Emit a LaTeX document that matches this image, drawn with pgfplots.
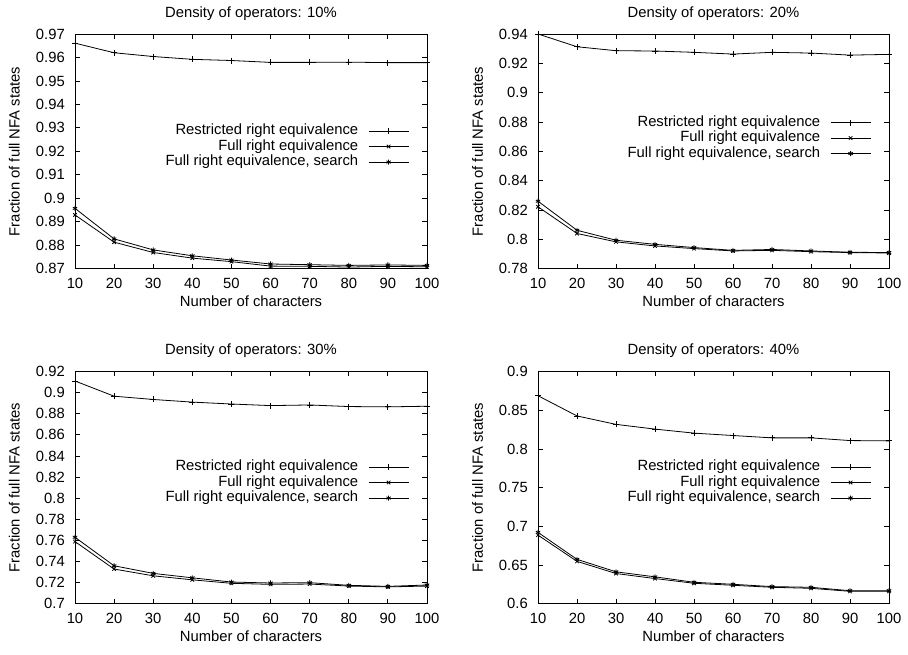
\documentclass[border=0pt]{standalone}
\usepackage{fontspec}
\setmainfont{Liberation Sans}
\usepackage{pgfplots}
\pgfplotsset{compat=1.18}
\pgfplotsset{
 gp/.style={
  scale only axis,
  xmin=10,xmax=100, xtick={10,20,30,40,50,60,70,80,90,100},
  tick align=inside, major tick length=5pt,
  axis line style={line width=0.9pt},
  every tick/.style={black, line width=0.8pt},
  clip=false,
  /pgf/number format/assume math mode=true,
  yticklabel style={/pgf/number format/fixed, /pgf/number format/precision=2, anchor=east, inner sep=0pt, xshift=-10pt},
  xticklabel style={anchor=base, inner sep=0pt, yshift=-20pt},
  scaled y ticks=false,
  title style={at={(axis description cs:0.5,1)}, anchor=base, inner sep=0pt, yshift=10.5pt},
  xlabel style={at={(axis description cs:0.5,0)}, anchor=base, inner sep=0pt, yshift=-37.5pt},
  ylabel style={at={(axis description cs:-0.172,0.5)}, anchor=center, inner sep=0pt},
  xlabel={Number of characters}, ylabel={Fraction of full NFA states},
  legend cell align=right, legend plot pos=right,
  legend style={draw=none, fill=none, inner sep=0pt, outer sep=0pt, row sep=1.8pt, column sep=10pt,
     at={(axis description cs:1,1)}, anchor=north east, xshift=-18pt,
     nodes={inner sep=0pt, text height=10.6pt, text depth=3.1pt}},
  legend image code/.code={\draw[mark repeat=2,mark phase=2,##1] plot coordinates {(0pt,0pt)(20pt,0pt)(40pt,0pt)};},
  every axis plot/.append style={black, line width=0.8pt, mark options={solid, line width=0.8pt}},
 },
 pr/.style={mark=+, mark size=3pt},
 pf/.style={mark=x, mark size=2.5pt},
 ps/.style={mark=asterisk, mark size=2.5pt},
}
\begin{document}
\begin{tikzpicture}[font=\fontsize{14.8}{17}\selectfont]
\path[use as bounding box] (0pt,0pt) rectangle (908pt,655pt);
% Panel 1
\begin{axis}[gp, at={(75pt,386.3pt)}, anchor=south west, width=352pt, height=234.7pt,
  ymin=0.87, ymax=0.97, ytick={0.87,0.88,0.89,0.9,0.91,0.92,0.93,0.94,0.95,0.96,0.97},
  title={Density of operators: 10\%}, legend style={yshift=-90.2pt}]
\addplot[pr] coordinates {(10,0.9661)(20,0.9620)(30,0.9604)(40,0.9592)(50,0.9587)(60,0.9579)(70,0.9579)(80,0.9580)(90,0.9578)(100,0.9578)};
\addlegendentry{Restricted right equivalence}
\addplot[pf] coordinates {(10,0.8929)(20,0.8813)(30,0.8769)(40,0.8745)(50,0.8730)(60,0.8711)(70,0.8710)(80,0.8707)(90,0.8710)(100,0.8708)};
\addlegendentry{Full right equivalence}
\addplot[ps] coordinates {(10,0.8957)(20,0.8827)(30,0.8780)(40,0.8755)(50,0.8737)(60,0.8720)(70,0.8717)(80,0.8714)(90,0.8716)(100,0.8714)};
\addlegendentry{Full right equivalence, search}
\end{axis}
% Panel 2
\begin{axis}[gp, at={(538pt,386.3pt)}, anchor=south west, width=351pt, height=234.7pt,
  ymin=0.78, ymax=0.94, ytick={0.78,0.8,0.82,0.84,0.86,0.88,0.9,0.92,0.94},
  title={Density of operators: 20\%}, legend style={yshift=-81.7pt}]
\addplot[pr] coordinates {(10,0.9400)(20,0.9313)(30,0.9286)(40,0.9284)(50,0.9275)(60,0.9263)(70,0.9275)(80,0.9270)(90,0.9256)(100,0.9261)};
\addlegendentry{Restricted right equivalence}
\addplot[pf] coordinates {(10,0.8222)(20,0.8040)(30,0.7983)(40,0.7955)(50,0.7937)(60,0.7921)(70,0.7925)(80,0.7916)(90,0.7910)(100,0.7907)};
\addlegendentry{Full right equivalence}
\addplot[ps] coordinates {(10,0.8260)(20,0.8062)(30,0.7994)(40,0.7966)(50,0.7944)(60,0.7925)(70,0.7931)(80,0.7921)(90,0.7912)(100,0.7910)};
\addlegendentry{Full right equivalence, search}
\end{axis}
% Panel 3
\begin{axis}[gp, at={(75pt,51.2pt)}, anchor=south west, width=352pt, height=232.3pt,
  ymin=0.7, ymax=0.92, ytick={0.7,0.72,0.74,0.76,0.78,0.8,0.82,0.84,0.86,0.88,0.9,0.92},
  title={Density of operators: 30\%}, legend style={yshift=-88.7pt}]
\addplot[pr] coordinates {(10,0.9110)(20,0.8966)(30,0.8935)(40,0.8910)(50,0.8892)(60,0.8877)(70,0.8883)(80,0.8868)(90,0.8865)(100,0.8871)};
\addlegendentry{Restricted right equivalence}
\addplot[pf] coordinates {(10,0.7589)(20,0.7329)(30,0.7265)(40,0.7227)(50,0.7194)(60,0.7184)(70,0.7187)(80,0.7168)(90,0.7160)(100,0.7168)};
\addlegendentry{Full right equivalence}
\addplot[ps] coordinates {(10,0.7630)(20,0.7360)(30,0.7288)(40,0.7246)(50,0.7206)(60,0.7197)(70,0.7200)(80,0.7175)(90,0.7165)(100,0.7178)};
\addlegendentry{Full right equivalence, search}
\end{axis}
% Panel 4
\begin{axis}[gp, at={(538pt,51.2pt)}, anchor=south west, width=351pt, height=232.3pt,
  ymin=0.6, ymax=0.9, ytick={0.6,0.65,0.7,0.75,0.8,0.85,0.9},
  title={Density of operators: 40\%}, legend style={yshift=-88.7pt}]
\addplot[pr] coordinates {(10,0.8687)(20,0.8426)(30,0.8317)(40,0.8256)(50,0.8204)(60,0.8173)(70,0.8143)(80,0.8143)(90,0.8108)(100,0.8104)};
\addlegendentry{Restricted right equivalence}
\addplot[pf] coordinates {(10,0.6887)(20,0.6548)(30,0.6391)(40,0.6326)(50,0.6265)(60,0.6239)(70,0.6213)(80,0.6200)(90,0.6161)(100,0.6161)};
\addlegendentry{Full right equivalence}
\addplot[ps] coordinates {(10,0.6922)(20,0.6574)(30,0.6413)(40,0.6348)(50,0.6278)(60,0.6252)(70,0.6222)(80,0.6213)(90,0.6169)(100,0.6169)};
\addlegendentry{Full right equivalence, search}
\end{axis}
\end{tikzpicture}
\end{document}
